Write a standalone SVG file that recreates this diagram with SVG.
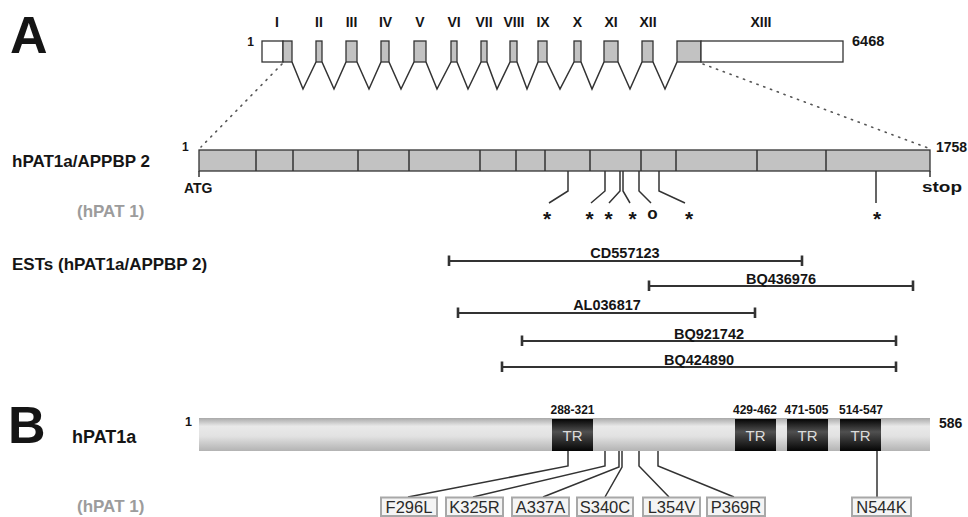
<svg xmlns="http://www.w3.org/2000/svg" width="968" height="517" viewBox="0 0 968 517">
<defs>
<linearGradient id="barG" x1="0" y1="0" x2="0" y2="1">
<stop offset="0" stop-color="#a9a9a9"/>
<stop offset="0.25" stop-color="#e9e9e9"/>
<stop offset="0.55" stop-color="#e2e2e2"/>
<stop offset="1" stop-color="#b3b3b3"/>
</linearGradient>
<linearGradient id="trG" x1="0" y1="0" x2="0" y2="1">
<stop offset="0" stop-color="#050505"/>
<stop offset="0.4" stop-color="#505050"/>
<stop offset="1" stop-color="#050505"/>
</linearGradient>
</defs>
<style>
text{font-family:"Liberation Sans",Arial,sans-serif;font-weight:bold;fill:#151515}
.big{font-size:52px}
.lbl{font-size:17px}
.gray{fill:#9c9c9c}
.num{font-size:14px}
.rom{font-size:14px}
.est{font-size:14.5px}
.star{font-size:21px}
.tr{font-size:15px;font-weight:normal;fill:#dcdcdc}
.mut{font-size:16.5px;font-weight:normal;fill:#2a2a2a}
.ex{fill:#c2c2c2;stroke:#333;stroke-width:1.3}
.utr{fill:#fff;stroke:#333;stroke-width:1.3}
.ln{fill:none;stroke:#333;stroke-width:1.5}
.dot{fill:none;stroke:#555;stroke-width:1.6;stroke-dasharray:1.2 6;stroke-linecap:round}
.estl{fill:none;stroke:#333;stroke-width:2}
.tick{fill:none;stroke:#333;stroke-width:2.6}
.mbox{fill:#f4f4f4;stroke:#a8a8a8;stroke-width:2}
</style>

<text class="big" x="10" y="53">A</text>
<text class="big" x="8" y="443">B</text>

<g id="gene">
<text class="num" x="254" y="46" text-anchor="end" style="font-size:12px">1</text>
<rect class="utr" x="262" y="41" width="21" height="21"/>
<rect class="ex" x="283" y="41" width="9" height="21"/>
<rect class="ex" x="316" y="41" width="6" height="21"/>
<rect class="ex" x="346" y="41" width="11" height="21"/>
<rect class="ex" x="381" y="41" width="8" height="21"/>
<rect class="ex" x="414" y="41" width="12" height="21"/>
<rect class="ex" x="451" y="41" width="6" height="21"/>
<rect class="ex" x="481" y="41" width="6" height="21"/>
<rect class="ex" x="510" y="41" width="7" height="21"/>
<rect class="ex" x="538" y="41" width="9" height="21"/>
<rect class="ex" x="574" y="41" width="7" height="21"/>
<rect class="ex" x="604" y="41" width="14" height="21"/>
<rect class="ex" x="642" y="41" width="11" height="21"/>
<rect class="ex" x="677" y="41" width="24" height="21"/>
<rect class="utr" x="701" y="41" width="142" height="21"/>
<text class="num" x="852" y="46" style="font-size:14.5px">6468</text>
<g class="rom" text-anchor="middle">
<text x="277" y="27">I</text>
<text x="319" y="27">II</text>
<text x="351.5" y="27">III</text>
<text x="385.5" y="27">IV</text>
<text x="420" y="27">V</text>
<text x="454" y="27">VI</text>
<text x="484" y="27">VII</text>
<text x="514" y="27">VIII</text>
<text x="543" y="27">IX</text>
<text x="577.5" y="27">X</text>
<text x="611" y="27">XI</text>
<text x="648" y="27">XII</text>
<text x="761" y="27">XIII</text>
</g>
</g>

<g id="cds">
<text x="12" y="167" class="lbl">hPAT1a/APPBP 2</text>
<text x="182" y="151" style="font-size:12px">1</text>
<rect class="ex" x="199" y="150" width="731" height="21"/>
<path class="ln" d="M256 150V171M293 150V171M358 150V171M409 150V171M480 150V171M516 150V171M545 150V171M590 150V171M641 150V171M676 150V171M757 150V171M826 150V171"/>
<path class="ln" d="M199 171V177M930 171V177"/>
<text x="936" y="152" class="num">1758</text>
<text x="184" y="193" class="num">ATG</text>
<text x="922" y="192" class="num" textLength="40" lengthAdjust="spacingAndGlyphs" style="font-size:15px">stop</text>
<text x="77" y="217" class="lbl gray">(hPAT 1)</text>
</g>

<g id="connectors">
<path class="dot" d="M282 64L201 147"/>
<path class="dot" d="M703 64L928 148"/>
<path class="ln" d="M292 62L303 89L316 62M322 62L334 89L346 62M357 62L369 89L381 62M389 62L401 89L414 62M426 62L437 89L451 62M457 62L468 89L481 62M487 62L497 89L510 62M517 62L527 89L538 62M547 62L560 89L574 62M581 62L592 89L604 62M618 62L630 89L642 62M653 62L665 89L677 62"/>
<path class="ln" d="M568 171V191L549 203M605 171V191L591 203M620 171V191L609 203M623 171V191L630 203M639 171V191L651 203M659 171V191L685 203M876 171V203"/>
<path class="ln" d="M568 451V466L408 497M605 451V466L473 497M619 451V467L543 497M622 451V467L605 497M639 451V466L669 497M658 451V466L734 497M877 451V497"/>
</g>

<g id="mutA" class="star" text-anchor="middle">
<text x="547" y="226">*</text>
<text x="589.5" y="226">*</text>
<text x="608.5" y="226">*</text>
<text x="632.5" y="226">*</text>
<text x="652.5" y="219" style="font-size:17px">o</text>
<text x="689" y="226">*</text>
<text x="877" y="226">*</text>
</g>

<g id="ests">
<text x="12" y="270" class="lbl">ESTs (hPAT1a/APPBP 2)</text>
<g id="CD557123"><path class="estl" d="M449 261H802"/><path class="tick" d="M449 255.5V266M802 255.5V266"/><text class="est" x="625" y="258" text-anchor="middle">CD557123</text></g>
<g id="BQ436976"><path class="estl" d="M649 286H913"/><path class="tick" d="M649 280.5V291M913 280.5V291"/><text class="est" x="781" y="284" text-anchor="middle">BQ436976</text></g>
<g id="AL036817"><path class="estl" d="M458 313H755"/><path class="tick" d="M458 307.5V318M755 307.5V318"/><text class="est" x="607" y="310" text-anchor="middle">AL036817</text></g>
<g id="BQ921742"><path class="estl" d="M522 341H896"/><path class="tick" d="M522 335.5V346M896 335.5V346"/><text class="est" x="709" y="339" text-anchor="middle">BQ921742</text></g>
<g id="BQ424890"><path class="estl" d="M502 367H896"/><path class="tick" d="M502 361.5V372M896 361.5V372"/><text class="est" x="699" y="365" text-anchor="middle">BQ424890</text></g>
</g>

<g id="protein">
<text x="72" y="443" class="lbl" style="font-size:18px">hPAT1a</text>
<text x="185" y="426" style="font-size:12.5px">1</text>
<rect x="199" y="418" width="731" height="33" fill="url(#barG)"/>
<text x="939" y="428" class="num">586</text>
<g id="TR1"><rect x="552" y="419" width="41" height="32" fill="url(#trG)"/><text class="tr" x="572.5" y="441" text-anchor="middle">TR</text><text x="572.5" y="414" text-anchor="middle" style="font-size:12px">288-321</text></g>
<g id="TR2"><rect x="735" y="419" width="41" height="32" fill="url(#trG)"/><text class="tr" x="755.5" y="441" text-anchor="middle">TR</text><text x="755" y="414" text-anchor="middle" style="font-size:12px">429-462</text></g>
<g id="TR3"><rect x="787" y="419" width="41" height="32" fill="url(#trG)"/><text class="tr" x="807.5" y="441" text-anchor="middle">TR</text><text x="806.5" y="414" text-anchor="middle" style="font-size:12px">471-505</text></g>
<g id="TR4"><rect x="840" y="419" width="41" height="32" fill="url(#trG)"/><text class="tr" x="860.5" y="441" text-anchor="middle">TR</text><text x="861" y="414" text-anchor="middle" style="font-size:12px">514-547</text></g>
<text x="77" y="512" class="lbl gray">(hPAT 1)</text>
</g>

<g id="mutB">
<g><rect class="mbox" x="381" y="497.5" width="56" height="18.5"/><text class="mut" x="409" y="513" text-anchor="middle">F296L</text></g>
<g><rect class="mbox" x="446" y="497.5" width="57" height="18.5"/><text class="mut" x="474.5" y="513" text-anchor="middle">K325R</text></g>
<g><rect class="mbox" x="512" y="497.5" width="57" height="18.5"/><text class="mut" x="540.5" y="513" text-anchor="middle">A337A</text></g>
<g><rect class="mbox" x="577" y="497.5" width="56" height="18.5"/><text class="mut" x="605" y="513" text-anchor="middle">S340C</text></g>
<g><rect class="mbox" x="643" y="497.5" width="57" height="18.5"/><text class="mut" x="671.5" y="513" text-anchor="middle">L354V</text></g>
<g><rect class="mbox" x="707" y="497.5" width="58" height="18.5"/><text class="mut" x="736" y="513" text-anchor="middle">P369R</text></g>
<g><rect class="mbox" x="852" y="497.5" width="59" height="18.5"/><text class="mut" x="881.5" y="513" text-anchor="middle">N544K</text></g>
</g>
</svg>
